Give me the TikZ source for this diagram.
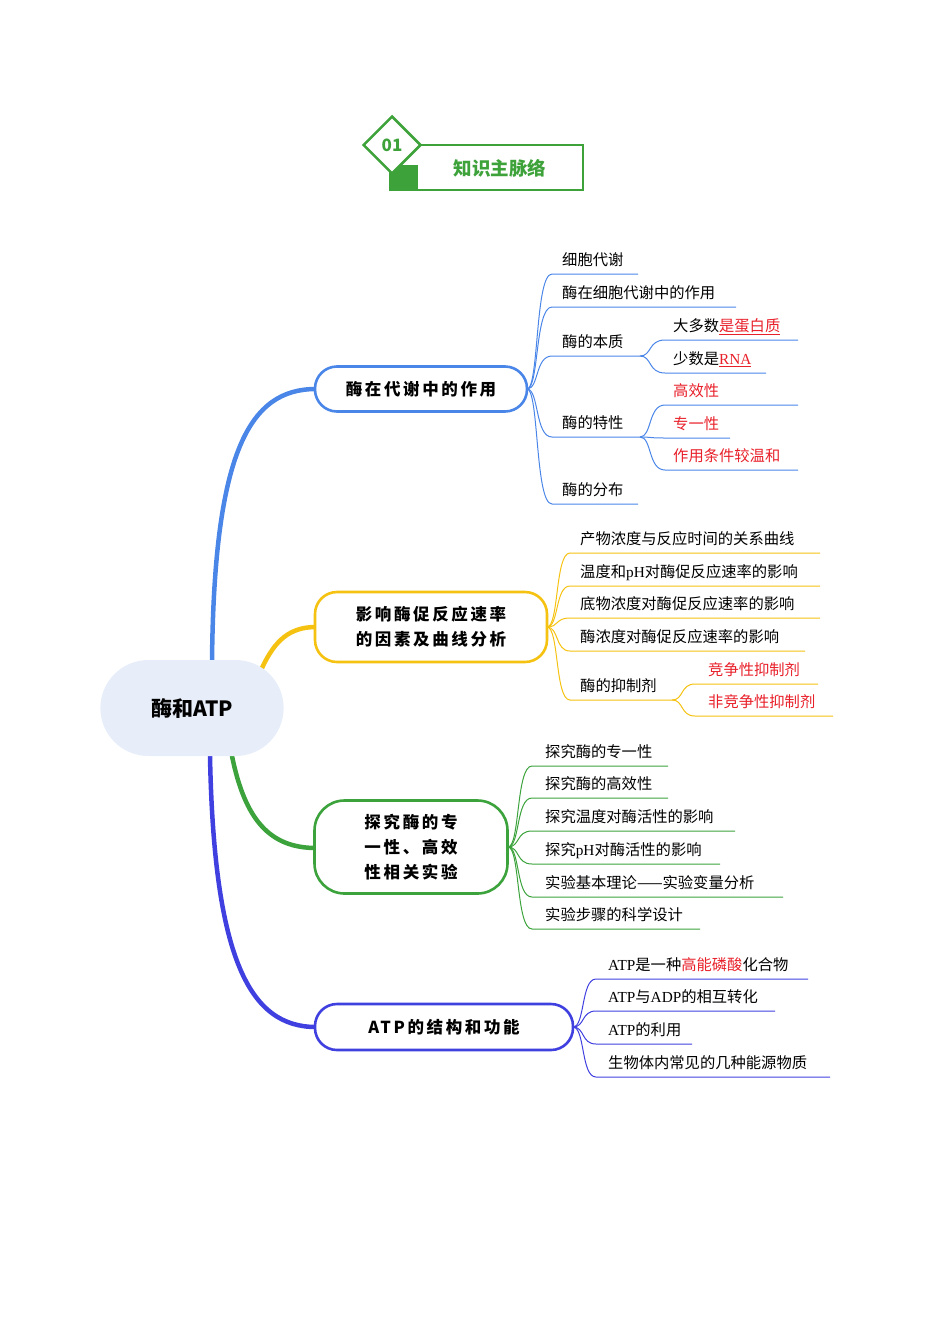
\documentclass[tikz,border=0pt]{standalone}
\usepackage{fontspec}
\setmainfont{Noto Sans CJK SC}
\newfontfamily\spcjk[LetterSpace=16]{Noto Sans CJK SC}
\newfontfamily\tnr{Liberation Serif}
\usetikzlibrary{shapes.geometric,shapes.misc}
\definecolor{bA}{HTML}{4A86E8}
\definecolor{yA}{HTML}{F5C211}
\definecolor{gA}{HTML}{3CA33C}
\definecolor{vA}{HTML}{4040E0}
\definecolor{rA}{HTML}{E8202A}
\definecolor{hG}{HTML}{3DA23A}
\definecolor{rootF}{HTML}{E8EEF9}
\newcommand{\rd}[1]{\textcolor{rA}{#1}}
\newcommand{\rdu}[1]{\textcolor{rA}{\underline{#1}}}
\begin{document}
\begin{tikzpicture}[x=1pt,y=-1pt,
  leaf/.style={anchor=base west,inner sep=0pt,font=\fontsize{15.3}{17}\selectfont},
  br/.style={rounded corners=22pt,line width=2.6pt,fill=white,align=center,font=\fontsize{16.5}{25}\selectfont\spcjk\bfseries,inner sep=0pt},
  conn/.style={line width=1pt},
  main/.style={line width=4.5pt,line cap=round}]
\useasboundingbox (0,0) rectangle (950,1344);
% header
\draw[hG,line width=2.5pt,fill=white] (390,145) rectangle (583,190);
\fill[hG] (390,165) rectangle (418,190);
\node[diamond,draw=hG,line width=2.5pt,fill=white,minimum width=58pt,minimum height=58pt,inner sep=0pt,font=\bfseries\fontsize{17}{17}\selectfont,text=hG] (d01) at (392,145) {01};
\node[font=\bfseries\fontsize{18.5}{18}\selectfont,text=hG] (ttl) at (500,168) {知识主脉络};
% main connectors
\coordinate (r1) at (212,662); \coordinate (r2) at (262,668);
\coordinate (r3) at (232,756); \coordinate (r4) at (210,756);
\draw[main,bA] (r1) .. controls (214,450) and (250,389) .. (316,389);
\draw[main,yA] (r2) .. controls (275,640) and (290,627) .. (316,627);
\draw[main,gA] (r3) .. controls (245,820) and (270,848) .. (316,848);
\draw[main,vA] (r4) .. controls (214,960) and (250,1027) .. (316,1027);
\node[rounded rectangle,fill=rootF,minimum width=190pt,minimum height=96pt,font=\bfseries\fontsize{21}{21}\selectfont] (root) at (192,708) {酶和ATP};
% branches
\node[br,draw=bA,minimum width=212pt,minimum height=45pt] (b1) at (421,389) {酶在代谢中的作用};
\node[br,draw=yA,minimum width=232pt,minimum height=70pt] (b2) at (431,627) {影响酶促反应速率\\的因素及曲线分析};
\node[br,draw=gA,minimum width=193pt,minimum height=93pt,rounded corners=30pt] (b3) at (411,847) {探究酶的专\\一性、高效\\性相关实验};
\node[br,draw=vA,minimum width=258pt,minimum height=46pt] (b4) at (444,1027) {ATP的结构和功能};
% leaf macro: color, parent x, parent y, start x, line y, end x, text x, text
\newcommand{\lf}[8]{%
  \draw[conn,#1] (#2,#3) .. controls (#2+12,#3) and (#2+8,#5) .. (#4,#5) -- (#6,#5);
  \node[leaf] at (#7,#5-8.5) {#8};}
% branch 1
\lf{bA}{527}{389}{552}{274}{638}{562}{细胞代谢}
\lf{bA}{527}{389}{552}{307}{736}{562}{酶在细胞代谢中的作用}
\lf{bA}{527}{389}{552}{356}{640}{562}{酶的本质}
\lf{bA}{527}{389}{552}{437}{640}{562}{酶的特性}
\lf{bA}{527}{389}{552}{504}{638}{562}{酶的分布}
\lf{bA}{640}{356}{665}{340}{798}{673}{大多数\rdu{是蛋白质}}
\lf{bA}{640}{356}{665}{373}{766}{673}{少数是\rdu{\tnr RNA}}
\lf{bA}{640}{437}{665}{405}{798}{673}{\rd{高效性}}
\lf{bA}{640}{437}{665}{438}{730}{673}{\rd{专一性}}
\lf{bA}{640}{437}{665}{470}{798}{673}{\rd{作用条件较温和}}
% branch 2
\lf{yA}{547}{627}{570}{553}{820}{580}{产物浓度与反应时间的关系曲线}
\lf{yA}{547}{627}{570}{586}{820}{580}{温度和{\tnr pH}对酶促反应速率的影响}
\lf{yA}{547}{627}{570}{618}{820}{580}{底物浓度对酶促反应速率的影响}
\lf{yA}{547}{627}{570}{651}{805}{580}{酶浓度对酶促反应速率的影响}
\lf{yA}{547}{627}{570}{700}{672}{580}{酶的抑制剂}
\lf{yA}{672}{700}{695}{684}{818}{708}{\rd{竞争性抑制剂}}
\lf{yA}{672}{700}{695}{716}{833}{708}{\rd{非竞争性抑制剂}}
% branch 3
\lf{gA}{508}{847}{532}{766}{668}{545}{探究酶的专一性}
\lf{gA}{508}{847}{532}{798}{668}{545}{探究酶的高效性}
\lf{gA}{508}{847}{532}{831}{735}{545}{探究温度对酶活性的影响}
\lf{gA}{508}{847}{532}{864}{720}{545}{探究{\tnr pH}对酶活性的影响}
\lf{gA}{508}{847}{532}{897}{783}{545}{实验基本理论——实验变量分析}
\lf{gA}{508}{847}{532}{929}{700}{545}{实验步骤的科学设计}
% branch 4
\lf{vA}{573}{1027}{596}{979}{808}{608}{{\tnr ATP}是一种\rd{高能磷酸}化合物}
\lf{vA}{573}{1027}{596}{1011}{775}{608}{{\tnr ATP}与{\tnr ADP}的相互转化}
\lf{vA}{573}{1027}{596}{1044}{692}{608}{{\tnr ATP}的利用}
\lf{vA}{573}{1027}{596}{1077}{830}{608}{生物体内常见的几种能源物质}
\end{tikzpicture}
\end{document}
